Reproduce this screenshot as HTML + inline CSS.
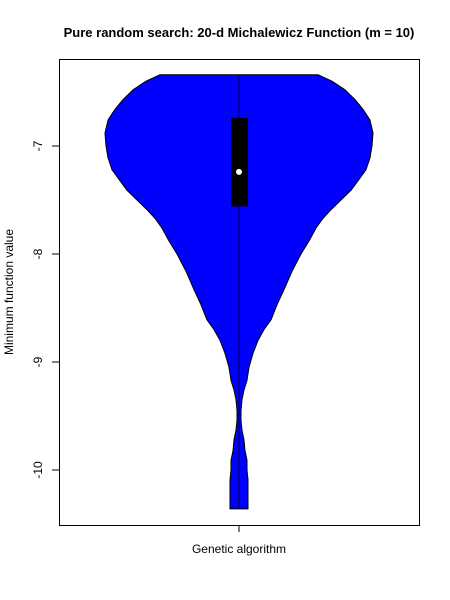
<!DOCTYPE html>
<html><head><meta charset="utf-8"><style>
body{margin:0;background:#fff;}
svg{display:block;font-family:"Liberation Sans",Arial,sans-serif;}
</style></head><body>
<svg id="chart" width="450" height="600" xmlns="http://www.w3.org/2000/svg">
<text x="239" y="37" text-anchor="middle" font-size="13" font-weight="bold">Pure random search: 20-d Michalewicz Function (m = 10)</text>
<rect x="59.5" y="59.5" width="360" height="466" fill="none" stroke="#000"/>
<g id="violin"></g>
<g id="yaxis"></g>
<text transform="translate(13,292) rotate(-90)" text-anchor="middle" font-size="12">Minimum function value</text>
<line x1="239" y1="525" x2="239" y2="532" stroke="#000"/>
<text x="239" y="553" text-anchor="middle" font-size="12">Genetic algorithm</text>
</svg>
<script>
const yTicks=[-7,-8,-9,-10];
const tickLabels=["-7","-8","-9","-10"];
const densV=[-6.34,-6.40,-6.48,-6.57,-6.66,-6.76,-6.88,-7.0,-7.11,-7.22,-7.31,-7.41,-7.50,-7.59,-7.67,-7.76,-7.88,-8.0,-8.16,-8.33,-8.47,-8.61,-8.70,-8.80,-8.92,-9.05,-9.17,-9.26,-9.35,-9.45,-9.54,-9.63,-9.72,-9.82,-9.91,-10.0,-10.09,-10.36];
const densW=[79,93,106,116,124,131,134,133,131,127,120,112,102,92,84,77,70,62,53,45,38,32,25,19,14,10,8,5,3,2,2,3,5,6,8,8,9,9];
const boxQ=[-6.34,-7.56,-7.24,-6.74,-10.36]; // max, q1, median, q3, min
const y0=-7,py0=146,ppu=108,cx=239;
function Y(v){return py0-(v-y0)*ppu;}
function W(w){return w;}
const NS="http://www.w3.org/2000/svg";
const ya=document.getElementById('yaxis');
const yl=document.createElementNS(NS,'line');
yl.setAttribute('x1',59.5);yl.setAttribute('x2',59.5);
yl.setAttribute('y1',Y(yTicks[0]));yl.setAttribute('y2',Y(yTicks[yTicks.length-1]));
yl.setAttribute('stroke','#000');


ya.appendChild(yl);
yTicks.forEach((t,i)=>{
 const l=document.createElementNS(NS,'line');
 l.setAttribute('x1',52);l.setAttribute('x2',59.5);l.setAttribute('y1',Y(t));l.setAttribute('y2',Y(t));l.setAttribute('stroke','#000');
 
 
 ya.appendChild(l);
 const tx=document.createElementNS(NS,'text');
 tx.setAttribute('transform','translate(42,'+Y(t)+') rotate(-90)');
 tx.setAttribute('text-anchor','middle');tx.setAttribute('font-size','12');
 tx.textContent=tickLabels[i];
 
 
 ya.appendChild(tx);
});
const g=document.getElementById('violin');
let pts=[];
densV.forEach((v,i)=>pts.push((cx+W(densW[i]))+','+Y(v)));
for(let i=densV.length-1;i>=0;i--)pts.push((cx-W(densW[i]))+','+Y(densV[i]));
const poly=document.createElementNS(NS,'polygon');
poly.setAttribute('points',pts.join(' '));
poly.setAttribute('fill','#0000ff');poly.setAttribute('stroke','#000');poly.setAttribute('stroke-linejoin','round');


g.appendChild(poly);
const wl=document.createElementNS(NS,'line');
wl.setAttribute('x1',cx);wl.setAttribute('x2',cx);wl.setAttribute('y1',Y(boxQ[0]));wl.setAttribute('y2',Y(boxQ[4]));wl.setAttribute('stroke','#000');wl.setAttribute('stroke-width','0.8');


g.appendChild(wl);
const bx=document.createElementNS(NS,'rect');
bx.setAttribute('x',cx-8);bx.setAttribute('width',17);
bx.setAttribute('y',Y(boxQ[3]));bx.setAttribute('height',Y(boxQ[1])-Y(boxQ[3]));bx.setAttribute('fill','#000');


g.appendChild(bx);
const md=document.createElementNS(NS,'circle');
md.setAttribute('cx',cx);md.setAttribute('cy',Y(boxQ[2]));md.setAttribute('r',3);md.setAttribute('fill','#fff');


g.appendChild(md);
</script>
</body></html>
